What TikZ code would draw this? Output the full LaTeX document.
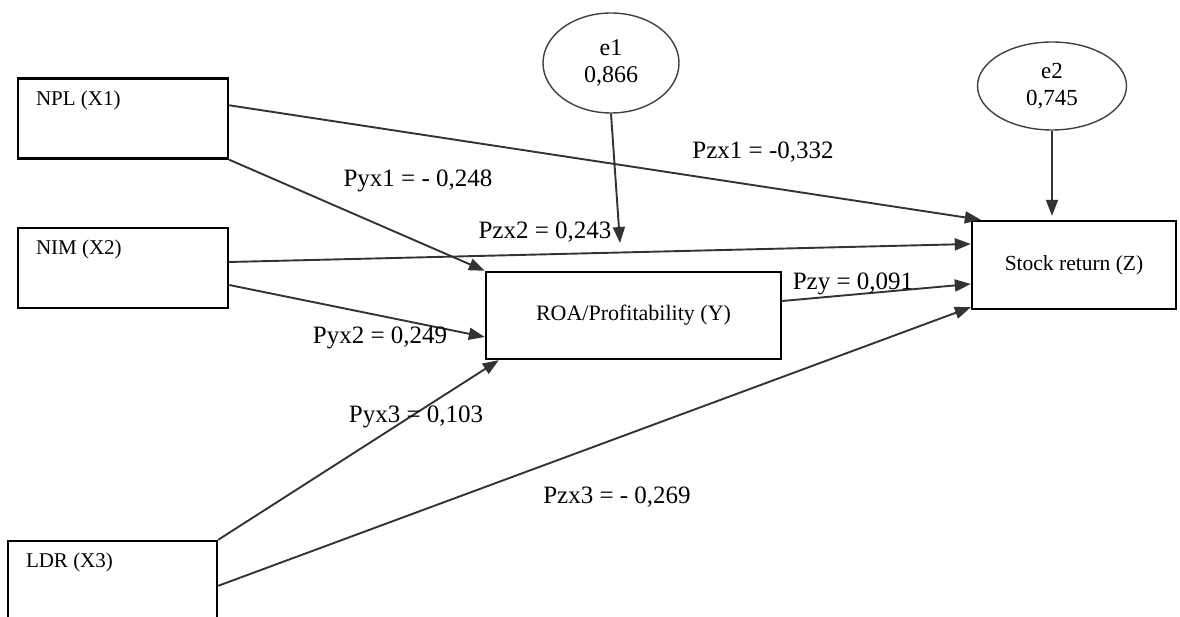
\documentclass[tikz,border=0pt]{standalone}
\usepackage{fontspec}
\setmainfont{Liberation Serif}
\usetikzlibrary{shapes.geometric,arrows.meta,calc}

\begin{document}
\begin{tikzpicture}[
  x=1pt, y=-1pt,
  var/.style={
    rectangle, draw, line width=2.4pt, inner sep=0pt,
    font=\fontsize{22}{26}\selectfont},
  exo/.style={
    rectangle, draw, line width=2.4pt, inner sep=0pt,
    minimum width=210pt, minimum height=80pt},
  tag/.style={
    anchor=north west, inner sep=0pt, xshift=19pt, yshift=-13pt,
    font=\fontsize{21}{25}\selectfont},
  err/.style={
    ellipse, draw=black!75, line width=1.4pt, inner sep=0pt,
    align=center, font=\fontsize{24}{27}\selectfont},
  coef/.style={font=\fontsize{25}{29}\selectfont},
  arr/.style={-{Triangle[length=16pt,width=12pt]}, line width=1.9pt, draw=black!80},
]
  \clip (0,0) rectangle (1180,617);

  % ── Exogenous variables ────────────────────────────────────────────────
  \node[exo, label={[tag]north west:NPL (X1)}] (npl) at (123,118.5) {};
  \node[exo, label={[tag]north west:NIM (X2)}] (nim) at (123,268)   {};
  \node[exo, minimum width=209pt, minimum height=100pt,
        label={[tag]north west:LDR (X3)}]      (ldr) at (112.5,591) {};

  % ── Intervening and dependent variables ────────────────────────────────
  \node[var, minimum width=295pt, minimum height=87pt] (roa) at (633.5,315.5)
      {ROA/Profitability (Y)};
  \node[var, minimum width=204pt, minimum height=88pt,
        font=\fontsize{21.5}{25}\selectfont]           (stock) at (1074,265)
      {Stock return (Z)};

  % ── Error terms ────────────────────────────────────────────────────────
  \node[err, minimum width=136pt, minimum height=100pt] (e1) at (611,63)
      {e1\\0,866};
  \node[err, minimum width=149pt, minimum height=88pt,
        font=\fontsize{23}{27}\selectfont]              (e2) at (1052,86)
      {e2\\0,745};

  \coordinate (e1tip) at (620,243);
  \coordinate (e2tip) at ($(e2.south |- stock.north)+(0,-4)$);

  % ── Paths ──────────────────────────────────────────────────────────────
  \draw[arr] ($(npl.north east)+(0,28)$)  -- ($(stock.north west)+(10,0)$);
  \draw[arr] (npl.south east)             -- (roa.north west);
  \draw[arr] ($(nim.east)+(0,-6)$)        -- ($(stock.west)+(0,-21)$);
  \draw[arr] ($(nim.east)+(0,17)$)        -- ($(roa.west)+(0,21.5)$);
  \draw[arr] ($(roa.east)+(0,-14.5)$)     -- ($(stock.west)+(0,19)$);
  \draw[arr] (ldr.north east)             -- ($(roa.south west)+(14,0)$);
  \draw[arr] ($(ldr.north east)+(0,46)$)  -- ($(stock.south west)+(0,-3)$);
  \draw[arr] (e1.south) -- (e1tip);
  \draw[arr] (e2.south) -- (e2tip);

  % ── Coefficients ───────────────────────────────────────────────────────
  \node[coef] (lyx1) at (418,181) {Pyx1 = - 0,248};
  \node[coef] (lzx1) at (763,152) {Pzx1 = -0,332};
  \node[coef] (lzx2) at (545,232) {Pzx2 = 0,243};
  \node[coef] (lzy)  at (853,284) {Pzy = 0,091};
  \node[coef] (lyx2) at (380,338) {Pyx2 = 0,249};
  \node[coef] (lyx3) at (416,417) {Pyx3 = 0,103};
  \node[coef] (lzx3) at (617,497) {Pzx3 = - 0,269};

\end{tikzpicture}
\end{document}
